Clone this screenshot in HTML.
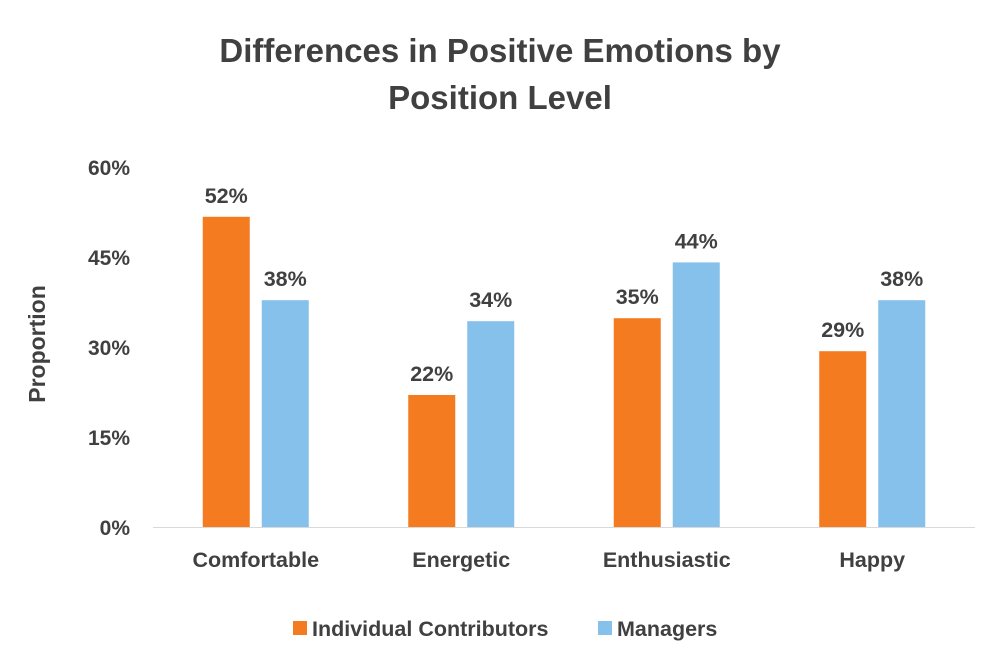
<!DOCTYPE html>
<html><head><meta charset="utf-8"><style>
body{margin:0;background:#fff;font-family:"Liberation Sans",sans-serif;}
svg text{font-family:"Liberation Sans",sans-serif;font-weight:bold;fill:#404040;}
</style></head><body>
<svg id="chart" width="1000" height="667">
<text x="500" y="62" text-anchor="middle" font-size="33">Differences in Positive Emotions by</text>
<text x="500" y="109" text-anchor="middle" font-size="33">Position Level</text>
<text transform="translate(45,344) rotate(-90)" text-anchor="middle" font-size="23">Proportion</text>
<g id="plot"></g>
<g>
<rect x="293" y="621" width="14" height="14" fill="#F47B20"/>
<text x="312" y="636" font-size="21.5">Individual Contributors</text>
<rect x="598" y="621" width="14" height="14" fill="#85C1EA"/>
<text x="617" y="636" font-size="21.5">Managers</text>
</g>
</svg>
<script>
const categories=["Comfortable","Energetic","Enthusiastic","Happy"];
const individual=[51.7,22,34.8,29.3];
const managers=[37.8,34.3,44.1,37.8];
const yTicks=[0,15,30,45,60];
const ns="http://www.w3.org/2000/svg";
const g=document.getElementById('plot');
const x0=153,x1=975,yBase=527,yTop=167,yMax=60;
const y=v=>yBase-(v/yMax)*(yBase-yTop);
const bw=(x1-x0)/categories.length;
function mk(t,a,txt){const e=document.createElementNS(ns,t);for(const k in a)e.setAttribute(k,a[k]);if(txt!=null)e.textContent=txt;g.appendChild(e);return e;}
yTicks.forEach(t=>{const e=mk('text',{x:130,y:y(t)+8,'text-anchor':'end','font-size':21},t+'%');

});
const ax=mk('line',{x1:x0,x2:x1,y1:yBase+0.5,y2:yBase+0.5,stroke:'#d9d9d9','stroke-width':1});


categories.forEach((c,i)=>{
 const cx=x0+bw*(i+0.5);
 const series=[[individual[i],'#F47B20',cx-53,'individual'],[managers[i],'#85C1EA',cx+6,'managers']];
 series.forEach(([v,col,bx,nm])=>{
  const r=mk('rect',{x:bx,y:y(v),width:47,height:yBase-y(v),fill:col});
  
  
  const l=mk('text',{x:bx+23.5,y:y(v)-14,'text-anchor':'middle','font-size':21.5},Math.round(v)+'%');
  
  
 });
 const t=mk('text',{x:cx,y:567,'text-anchor':'middle','font-size':21.5},c);
 
 
});
</script>
</body></html>
